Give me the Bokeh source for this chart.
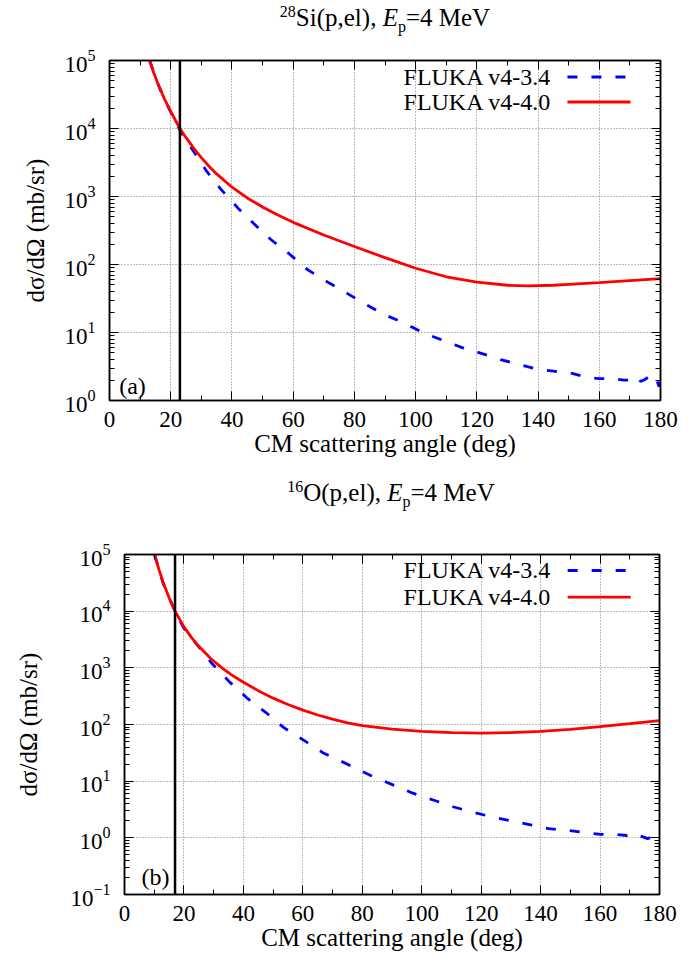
import numpy as np
from bokeh.plotting import figure
from bokeh.models import (Range1d, LinearAxis, LogAxis, SingleIntervalTicker,
                          LogTicker, Span, Label, CustomJSTickFormatter, Div)
from bokeh.embed import file_html
from bokeh.resources import INLINE

# ---------------- data ----------------
# Panel (a): 28Si(p,el), Ep = 4 MeV
a_old_angle = [13.1, 16, 18, 20, 23, 25, 27.5, 31.9, 36.5, 41.9, 47.1, 52.6,
               58.6, 64.5, 71.3, 77.9, 83.6, 90.2, 96.7, 102.7, 109.2, 115.2,
               121.7, 127.7, 133.7, 139.7, 145.1, 151.1, 156, 159.8, 163.7, 168,
               171.3, 172.5, 173.5, 174.6, 176, 177, 178.8, 179.5, 180]
a_old_xs = [1.0e5, 4.3e4, 2.65e4, 1.75e4, 9.5e3, 6.7e3, 4.6e3, 2.3e3, 1.26e3,
            680, 400, 235, 145, 85, 55, 37, 26, 18, 13.5, 9.8, 7.6, 6.0, 4.9,
            4.0, 3.4, 2.9, 2.7, 2.5, 2.2, 2.1, 2.1, 2.0, 2.0, 2.2, 1.9, 2.0,
            2.2, 1.85, 2.0, 1.6, 1.9]
a_new_angle = [13.1, 14.5, 16, 18, 20, 23, 25, 27.5, 30, 32.5, 35, 40, 45, 50,
               55, 60, 70, 80, 90, 100, 110, 120, 130, 137, 145, 150, 160, 170,
               180]
a_new_xs = [1.0e5, 6.5e4, 4.37e4, 2.69e4, 1.78e4, 1.0e4, 7.33e3, 5.14e3,
            3.73e3, 2.79e3, 2.15e3, 1.37e3, 953, 701, 535, 417, 272, 184, 126,
            88, 66, 55, 49.5, 48.4, 49.5, 51, 54, 58, 62]
a_vline = 23.0

# Panel (b): 16O(p,el), Ep = 4 MeV
b_old_angle = [10.1, 13, 17, 20, 25, 29.5, 35.4, 41.5, 47.7, 53.6, 60, 67.1,
               74.5, 82.8, 90.1, 96.8, 104.1, 110.8, 117.5, 124.3, 131, 136.6,
               142.8, 149.5, 154, 160.2, 164.6, 169.1, 171, 174.2, 176, 178.7, 180]
b_old_xs = [1.0e5, 3.1e4, 9.8e3, 5.0e3, 2.34e3, 1.18e3, 560, 285, 161, 88, 54,
            31, 20.5, 12.6, 8.7, 6.2, 4.6, 3.5, 2.8, 2.3, 1.95, 1.7, 1.45,
            1.35, 1.25, 1.15, 1.15, 1.1, 1.2, 1.05, 0.97, 1.1, 1.0]
b_new_angle = [10.1, 11.5, 13, 15, 17, 20, 22.5, 25, 29, 33, 36, 40, 45, 50,
               55, 60, 65, 70, 75, 80, 90, 100, 110, 120, 130, 140, 150, 160,
               170, 180]
b_new_xs = [1.0e5, 5.62e4, 3.24e4, 1.72e4, 1.0e4, 5.27e3, 3.45e3, 2.4e3,
            1.46e3, 977, 753, 556, 396, 292, 225, 179, 147, 124, 107, 95.5,
            82.8, 75.5, 71.9, 70.6, 71.8, 75.7, 82.2, 91.6, 103.5, 117.5]
b_vline = 17.0

x_ticks_interval = 20
series_names = ["FLUKA v4-3.4", "FLUKA v4-4.0"]

# ---------------- style ----------------
FONT = "Liberation Serif"
FS_TICK = "23px"
FS_LABEL = "25px"
FS_LEG = "24px"
BLUE = "#0000ff"
RED = "#ff0000"


def make_panel(yr, bl, fw, br, bt, fh, bb, ylab_standoff):
    p = figure(x_range=Range1d(0, 180), y_range=Range1d(*yr), y_axis_type="log",
               width=bl + fw + br, height=bt + fh + bb,
               min_border_left=bl, min_border_top=bt, min_border_bottom=bb,
               min_border_right=br, margin=0,
               output_backend="svg", toolbar_location=None, title=None)
    p.background_fill_color = "white"
    p.border_fill_color = "white"
    p.outline_line_color = "black"
    p.outline_line_width = 1.5

    p.xaxis.ticker = SingleIntervalTicker(interval=x_ticks_interval, num_minor_ticks=2)
    p.yaxis.ticker = LogTicker(desired_num_ticks=8, num_minor_ticks=10)
    for ax in p.xaxis + p.yaxis:
        ax.axis_line_color = "black"
        ax.axis_line_width = 1.5
        ax.major_tick_in = 9
        ax.major_tick_out = 0
        ax.minor_tick_in = 5
        ax.minor_tick_out = 0
        ax.major_tick_line_color = "black"
        ax.minor_tick_line_color = "black"
        ax.major_label_text_font = FONT
        ax.major_label_text_font_size = FS_TICK
        ax.major_label_text_color = "black"
        ax.axis_label_text_font = FONT
        ax.axis_label_text_font_size = FS_LABEL
        ax.axis_label_text_font_style = "normal"
        ax.axis_label_text_color = "black"
    p.xaxis.major_label_standoff = 11
    p.xaxis.axis_label_standoff = 0
    p.xaxis.axis_label = "CM scattering angle (deg)"
    p.yaxis.major_label_standoff = 14
    p.yaxis.axis_label_standoff = ylab_standoff
    p.yaxis.axis_label = "dσ/dΩ (mb/sr)"

    top = LinearAxis(ticker=SingleIntervalTicker(interval=x_ticks_interval, num_minor_ticks=2),
                     formatter=CustomJSTickFormatter(code="return '';"),
                     major_tick_in=9, major_tick_out=0,
                     minor_tick_in=5, minor_tick_out=0, axis_line_width=1.5,
                     major_label_standoff=0)
    right = LogAxis(ticker=LogTicker(desired_num_ticks=8, num_minor_ticks=10),
                    formatter=CustomJSTickFormatter(code="return '';"),
                    major_tick_in=9, major_tick_out=0,
                    minor_tick_in=5, minor_tick_out=0, axis_line_width=1.5,
                    major_label_standoff=0)
    p.add_layout(top, "above")
    p.add_layout(right, "right")

    for g in (p.xgrid[0], p.ygrid[0]):
        g.grid_line_color = "#7a7a7a"
        g.grid_line_dash = "1 2"
        g.grid_line_width = 1
    return p


def add_legend(p, xtext, x0, x1, ylogs):
    styles = [dict(line_color=BLUE, line_width=2.8, line_dash="10 14"),
              dict(line_color=RED, line_width=2.8)]
    for name, yl, st in zip(series_names, ylogs, styles):
        p.add_layout(Label(x=xtext, y=10 ** yl, text=name, text_font=FONT,
                           text_font_size=FS_LEG, text_align="right",
                           text_baseline="middle", text_color="black"))
        p.line([x0, x1], [10 ** yl, 10 ** yl], **st)


def title_div(mass, symbol, center_x, top_pad, height):
    html = (f'<div style="margin-left:{center_x - 200}px; width:400px; '
            f'padding-top:{top_pad}px; text-align:center; white-space:nowrap; '
            f"font-family:'Liberation Serif'; font-size:25px; color:black; line-height:1.1;\">"
            f'<sup style="font-size:16px">{mass}</sup>{symbol}(p,el), '
            f'<i>E</i><sub style="font-size:16px">p</sub>=4 MeV</div>')
    return Div(text=html, width=687, height=height, margin=0)


# ---------------- panel (a) ----------------
div_a = title_div("28", "Si", 385, 3, 40)
pa = make_panel((1, 1e5), 109, 551, 27, 20, 340, 70, 12)
pa.line(a_old_angle, a_old_xs, line_color=BLUE, line_width=2.8, line_dash="10 14")
pa.line(a_new_angle, a_new_xs, line_color=RED, line_width=2.8)
pa.add_layout(Span(location=a_vline, dimension="height", line_color="black", line_width=2.5))
add_legend(pa, 144.4, 149.6, 170.2, [4.757, 4.39])
pa.add_layout(Label(x=7.5, y=10 ** 0.22, text="(a)", text_font=FONT, text_font_size=FS_LEG,
                    text_align="center", text_baseline="middle", text_color="black"))

# ---------------- panel (b) ----------------
div_b = title_div("16", "O", 391, 8, 54)
pb = make_panel((0.1, 1e5), 124, 535, 28, 30, 340, 67, 25)
pb.line(b_old_angle, b_old_xs, line_color=BLUE, line_width=2.8, line_dash="10 14")
pb.line(b_new_angle, b_new_xs, line_color=RED, line_width=2.8)
pb.add_layout(Span(location=b_vline, dimension="height", line_color="black", line_width=2.5))
add_legend(pb, 143.7, 149.1, 170.3, [4.718, 4.247])
pb.add_layout(Label(x=10.4, y=10 ** -0.69, text="(b)", text_font=FONT, text_font_size=FS_LEG,
                    text_align="center", text_baseline="middle", text_color="black"))

open("out.html", "w").write(file_html([div_a, pa, div_b, pb], INLINE))
